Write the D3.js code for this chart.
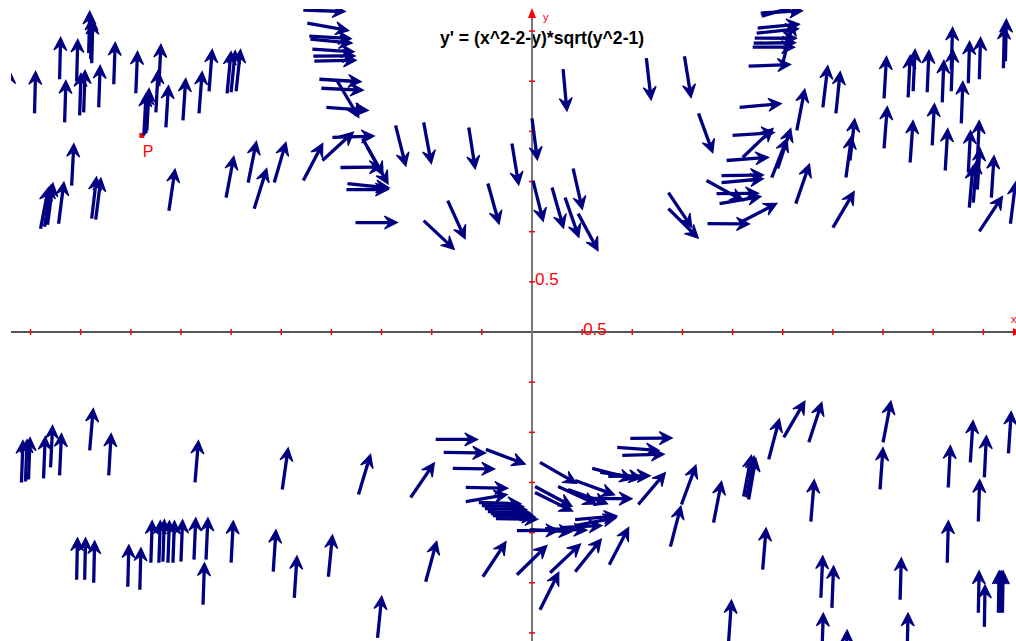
<!DOCTYPE html>
<html><head><meta charset="utf-8">
<script src="https://cdn.jsdelivr.net/npm/d3@7"></script>
<style>html,body{margin:0;padding:0;background:#fff;overflow:hidden}</style>
</head><body>
<svg id="c" width="1016" height="641"></svg>
<script>
// ---- data (sample points of the slope field, in axis units) ----
const titleText = "y' = (x^2-2-y)*sqrt(y^2-1)";
const xTickValues = [-5,-4.5,-4,-3.5,-3,-2.5,-2,-1.5,-1,-0.5,0.5,1,1.5,2,2.5,3,3.5,4,4.5];
const yTickValues = [-3,-2.5,-2,-1.5,-1,-0.5,0.5,1,1.5,2,2.5,3];
const xTickLabel = {value: 0.5, text: "0.5"};
const yTickLabel = {value: 0.5, text: "0.5"};
const pointP = [-3.89, 1.96];

const topLeft = [[-5.22,2.19],[-4.96,2.18],[-4.42,2.78],[-4.40,2.72],[-4.39,2.68],[-4.71,2.52],[-4.54,2.50],[-4.17,2.47],[-3.95,2.38],[-3.72,2.45],[-3.75,2.19],[-4.66,2.09],[-4.51,2.16],[-4.47,2.19],[-4.32,2.24],[-3.87,1.96],[-3.85,1.98],[-3.84,2.01],[-3.65,2.04],[-3.48,2.11],[-3.32,2.18],[-3.22,2.40],[-3.04,2.38],[-3.00,2.39],[-2.95,2.40],[-4.59,1.46],[-4.90,1.03],[-4.86,1.05],[-4.83,1.07],[-4.72,1.08],[-4.39,1.13],[-4.35,1.12],[-3.62,1.21],[-3.05,1.34],[-2.83,1.49],[-2.77,1.23],[-2.57,1.49],[-2.28,1.51],[-2.09,1.71]];
const topMid = [[-2.28,3.21],[-2.24,3.08],[-2.22,2.95],[-2.21,2.92],[-2.19,2.82],[-2.18,2.75],[-2.17,2.70],[-2.12,2.52],[-2.10,2.43],[-2.05,2.24],[-1.94,2.50],[-1.99,1.94],[-1.69,1.93],[-1.64,1.84],[-1.91,1.64],[-1.84,1.48],[-1.85,1.42],[-1.76,1.09],[-1.36,2.06],[-1.08,2.09],[-0.63,2.04],[-0.20,1.88],[0.00,2.13],[0.31,2.62],[1.14,2.73],[1.52,2.75],[-0.44,1.48],[-0.84,1.31],[-1.08,1.11],[0.01,1.51],[0.20,1.44],[0.33,1.34],[0.41,1.63],[0.46,1.18],[1.66,2.18],[1.36,1.39],[1.36,1.23]];
const topRight = [[2.28,3.18],[2.29,3.15],[2.25,3.03],[2.24,2.98],[2.22,2.93],[2.21,2.88],[2.20,2.84],[2.16,2.65],[2.50,2.68],[2.07,2.24],[2.00,1.96],[2.10,1.74],[1.94,1.71],[1.89,1.56],[1.89,1.49],[1.74,1.51],[1.84,1.38],[1.87,1.28],[1.75,1.08],[2.07,1.09],[2.39,1.54],[2.45,1.63],[2.64,2.01],[2.63,1.28],[2.90,2.24],[3.03,2.18],[3.13,1.54],[3.17,1.71],[3.00,1.04],[3.51,2.33],[3.51,1.83],[3.75,2.34],[3.80,2.40],[3.77,1.69],[3.94,2.39],[3.99,1.86],[4.09,2.29],[4.12,1.61],[4.18,2.62],[4.18,2.40],[4.28,2.08],[4.35,2.48],[4.46,2.52],[4.70,2.63],[4.72,2.70],[4.35,1.59],[4.44,1.69],[4.44,1.42],[4.40,1.29],[4.36,1.24],[4.58,1.34],[4.77,1.08],[4.46,1.004]];
const bottomLeft = [[-5.09,-1.50],[-5.05,-1.49],[-5.02,-1.47],[-4.87,-1.46],[-4.80,-1.35],[-4.71,-1.43],[-4.41,-1.18],[-4.22,-1.43],[-3.36,-1.50],[-2.49,-1.57],[-4.54,-2.47],[-4.46,-2.47],[-4.37,-2.50],[-4.03,-2.54],[-3.91,-2.57],[-3.80,-2.30],[-3.72,-2.30],[-3.68,-2.29],[-3.63,-2.30],[-3.58,-2.30],[-3.50,-2.29],[-3.37,-2.27],[-3.25,-2.27],[-3.28,-2.72],[-3.00,-2.30],[-2.58,-2.39],[-2.37,-2.65],[-2.03,-2.44]];
const bottomCenter = [[-1.73,-1.62],[-1.21,-1.65],[-1.06,-2.49],[-1.54,-3.05],[-0.49,-2.44],[-0.15,-2.42],[0.08,-2.77],[0.18,-2.40],[0.43,-2.39],[0.77,-2.32],[1.38,-2.14],[1.06,-1.72],[-0.96,-1.07],[-0.88,-1.20],[-0.79,-1.36],[-0.46,-1.17],[0.98,-1.06],[0.85,-1.15],[0.90,-1.23],[0.08,-1.30],[0.43,-1.48],[0.60,-1.36],[0.68,-1.40],[0.76,-1.44],[-0.66,-1.55],[-0.66,-1.69],[-0.53,-1.70],[-0.50,-1.73],[-0.47,-1.76],[-0.44,-1.79],[-0.41,-1.81],[-0.39,-1.83],[-0.36,-1.86],[-0.15,-1.98],[-0.02,-1.97],[0.13,-1.96],[0.28,-1.95],[0.43,-1.93],[0.03,-1.54],[0.03,-1.60],[0.26,-1.54],[0.36,-1.57],[0.43,-1.87],[0.58,-1.66]];
const bottomRight = [[1.49,-1.72],[1.81,-1.90],[2.11,-1.64],[2.14,-1.65],[2.16,-1.67],[2.36,-1.27],[2.51,-1.05],[2.76,-1.10],[2.78,-1.89],[2.30,-2.37],[3.50,-1.10],[3.47,-1.57],[2.88,-2.65],[2.99,-2.75],[3.67,-2.67],[1.96,-3.09],[2.89,-3.22],[3.13,-3.39],[3.74,-3.22],[4.15,-1.55],[4.14,-2.30],[4.37,-1.30],[4.51,-1.45],[4.45,-1.89],[4.75,-1.21],[4.45,-2.80],[4.51,-2.94],[4.65,-2.80],[4.67,-2.80],[4.69,-2.80]];

// ---- the equation the field shows ----
const slope = (px, py) => (px * px - 2 - py) * Math.sqrt(py * py - 1);

// ---- drawing ----
const W = 1016, H = 641;
const svg = d3.select('#c');
const x = d3.scaleLinear().domain([0, 1]).range([532, 632.3]);
const y = d3.scaleLinear().domain([0, 1]).range([332, 231.7]);
const FONT = '"Liberation Sans", Arial, Helvetica, sans-serif';
const NAVY = '#000080';
const RED = '#ff0000';

svg.append('rect').attr('width', W).attr('height', H).attr('fill', '#fff');

svg.append('defs').append('clipPath').attr('id', 'plot')
  .append('rect').attr('x', 11).attr('y', 9).attr('width', W - 11).attr('height', H - 9);

// title (under the axis line)
svg.append('text').attr('x', 440).attr('y', 44)
  .attr('font-family', FONT).attr('font-weight', 'bold').attr('font-size', 17.6)
  .attr('fill', '#000').text(titleText);

// axes
const ax = svg.append('g');
const x0 = x(0), y0 = y(0);
ax.append('line').attr('x1', 11).attr('x2', W).attr('y1', y0).attr('y2', y0)
  .attr('stroke', '#555').attr('stroke-width', 2);
ax.append('line').attr('x1', x0).attr('x2', x0).attr('y1', 14).attr('y2', H)
  .attr('stroke', '#777').attr('stroke-width', 2);

ax.selectAll('.xt').data(xTickValues).enter().append('line')
  .attr('x1', d => x(d)).attr('x2', d => x(d))
  .attr('y1', y0 - 3).attr('y2', y0 + 3)
  .attr('stroke', RED).attr('stroke-width', 1.5);
ax.selectAll('.yt').data(yTickValues).enter().append('line')
  .attr('y1', d => y(d)).attr('y2', d => y(d))
  .attr('x1', x0 - 3).attr('x2', x0 + 3)
  .attr('stroke', RED).attr('stroke-width', 1.5);

// axis arrowheads and names
ax.append('path').attr('d', `M${x0},8 L${x0 - 4},18 L${x0 + 4},18 Z`).attr('fill', RED);
ax.append('path').attr('d', `M${W + 5},${y0} L${W - 3},${y0 - 4} L${W - 3},${y0 + 4} Z`).attr('fill', RED);
ax.append('text').attr('x', x0 + 11).attr('y', 21).attr('font-family', FONT)
  .attr('font-size', 11).attr('fill', RED).text('y');
ax.append('text').attr('x', W - 5).attr('y', y0 - 9).attr('font-family', FONT)
  .attr('font-size', 11).attr('fill', RED).text('x');

// tick labels
ax.append('text').attr('x', x0 + 3).attr('y', y(yTickLabel.value) + 3.5)
  .attr('font-family', FONT).attr('font-size', 17).attr('fill', RED).text(yTickLabel.text);
ax.append('text').attr('x', x(xTickLabel.value) + 1).attr('y', y0 + 2.5)
  .attr('font-family', FONT).attr('font-size', 17).attr('fill', RED).text(xTickLabel.text);

// point P (under its arrow)
svg.append('rect').attr('x', x(pointP[0]) - 2.5).attr('y', y(pointP[1]) - 2.5)
  .attr('width', 5).attr('height', 5).attr('fill', RED);
svg.append('text').attr('x', x(pointP[0]) + 1).attr('y', y(pointP[1]) + 22)
  .attr('font-family', FONT).attr('font-size', 16).attr('fill', RED).text('P');

// arrows
const L = 42, HL = 13, HW = 6.5, NOTCH = 8;
const allPoints = [].concat(topLeft, topMid, topRight, bottomLeft, bottomCenter, bottomRight);
const g = svg.append('g').attr('clip-path', 'url(#plot)');
allPoints.forEach(([px, py]) => {
  const f = slope(px, py);
  if (!isFinite(f)) return;
  const a = Math.atan(f);
  const ux = Math.cos(a), uy = -Math.sin(a);   // screen direction
  const nx = -uy, ny = ux;
  const tx = x(px), ty = y(py);
  const hx = tx + L * ux, hy = ty + L * uy;
  g.append('line')
    .attr('x1', tx).attr('y1', ty)
    .attr('x2', hx - NOTCH * ux).attr('y2', hy - NOTCH * uy)
    .attr('stroke', NAVY).attr('stroke-width', 3.3);
  const p = d3.path();
  p.moveTo(hx, hy);
  p.lineTo(hx - HL * ux + HW * nx, hy - HL * uy + HW * ny);
  p.lineTo(hx - NOTCH * ux, hy - NOTCH * uy);
  p.lineTo(hx - HL * ux - HW * nx, hy - HL * uy - HW * ny);
  p.closePath();
  g.append('path').attr('d', p.toString()).attr('fill', NAVY)
    .attr('stroke', NAVY).attr('stroke-width', 1.2).attr('stroke-linejoin', 'miter');
});
</script>
</body></html>
